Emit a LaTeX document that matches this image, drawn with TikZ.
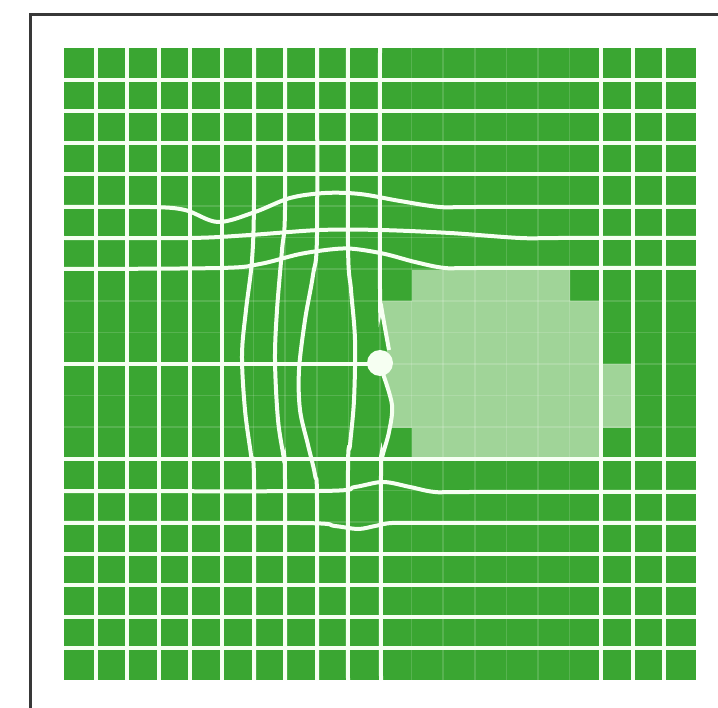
\documentclass[tikz,border=0pt]{standalone}
\definecolor{dg}{RGB}{58,166,50}
\definecolor{lg}{RGB}{160,212,152}
\definecolor{wl}{RGB}{246,255,242}
\tikzset{
 gridline/.style={line width=4pt, color=wl, line cap=butt},
 faintline/.style={line width=1.5pt, white, opacity=0.15},
 frameline/.style={line width=3pt, black!78, line join=miter}
}
\begin{document}
\begin{tikzpicture}[x=1pt,y=-1pt]
\useasboundingbox (0,0) rectangle (718,708);
\fill[white] (0,0) rectangle (718,708);
\draw[frameline] (30,708) -- (30,15) -- (718,15);
\fill[dg] (64,48) rectangle (696,680);
% light region
\fill[lg] (412,270) -- (570,270) -- (570,301) -- (601,301) -- (601,458) -- (412,458) -- (412,428) -- (389,428) -- (392,405) -- (384,376) -- (380,363) -- (389,347) -- (384,325) -- (381,301) -- (412,301) -- cycle;
\fill[lg] (601,364) rectangle (633,428);
% faint grid
\foreach \k in {1,...,19} {
 \draw[faintline] ({64+31.6*\k},48) -- ({64+31.6*\k},680);
 \draw[faintline] (64,{48+31.6*\k}) -- (696,{48+31.6*\k});
}
% straight strong lines
\foreach \k in {1,2,3,4,13,16,17,18,19}
 \draw[gridline] (64,{48+31.6*\k}) -- (696,{48+31.6*\k});
\foreach \k in {1,2,3,4,5,17,18,19}
 \draw[gridline] ({64+31.6*\k},48) -- ({64+31.6*\k},680);
\draw[gridline] (64,364) -- (368,364);
% distorted horizontals
\draw[gridline] plot[smooth,tension=0.55] coordinates {(64,207) (150,207) (185,210) (218,222) (255,212) (290,198) (325,193) (360,194) (400,201) (440,207) (480,207) (696,207)};
\draw[gridline] plot[smooth,tension=0.55] coordinates {(64,238) (190,238) (250,235) (320,230) (380,230) (450,233) (520,238) (560,238) (696,238)};
\draw[gridline] plot[smooth,tension=0.55] coordinates {(64,269) (220,268) (260,264) (300,254) (335,249) (355,249) (385,254) (415,262) (445,268) (480,268) (696,268)};
\draw[gridline] plot[smooth,tension=0.55] coordinates {(64,491) (320,491) (355,487) (383,482) (410,487) (435,492) (470,492) (696,492)};
\draw[gridline] plot[smooth,tension=0.55] coordinates {(64,523) (300,523) (335,526) (358,529) (375,526) (392,523) (430,523) (696,523)};
% distorted verticals
\draw[gridline] plot[smooth,tension=0.55] coordinates {(254,48) (254,200) (252,260) (246,310) (242,355) (245,410) (251,455) (254,480) (254,680)};
\draw[gridline] plot[smooth,tension=0.55] coordinates {(285,48) (285,210) (282,250) (277,310) (275,360) (278,420) (284,460) (285,480) (285,680)};
\draw[gridline] plot[smooth,tension=0.55] coordinates {(317,48) (317,235) (313,275) (305,320) (299,370) (300,410) (308,445) (315,475) (317,500) (317,680)};
\draw[gridline] plot[smooth,tension=0.55] coordinates {(348,48) (348,245) (351,290) (355,340) (354,400) (350,445) (348,470) (348,680)};
\draw[gridline] plot[smooth,tension=0.55] coordinates {(380,48) (380,290) (381,305) (385,328) (389,350)};
\draw[gridline] plot[smooth,tension=0.55] coordinates {(383,374) (392,405) (389,432) (382,458) (381,475) (381,680)};
% point
\fill[wl] (380,363) circle (13);
\end{tikzpicture}
\end{document}
